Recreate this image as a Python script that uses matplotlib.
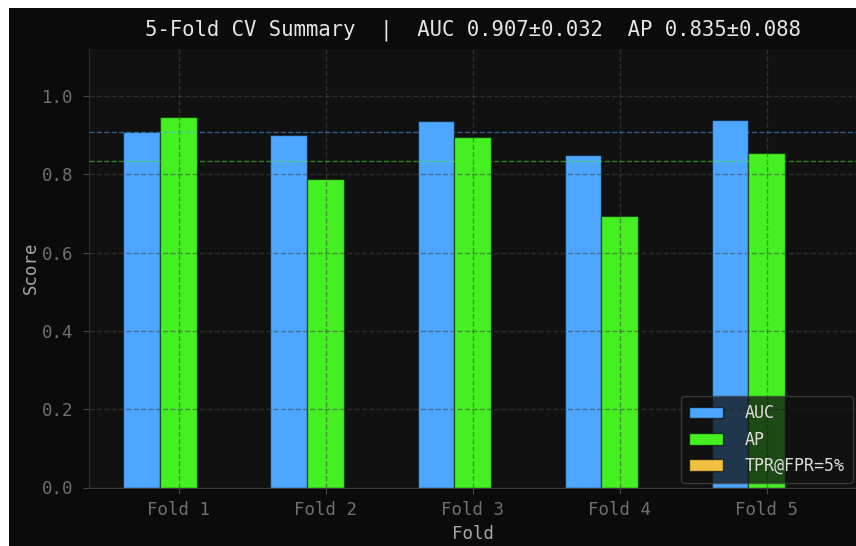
import numpy as np
import matplotlib
matplotlib.use("Agg")
import matplotlib.pyplot as plt
from matplotlib.patches import Rectangle

# Per-fold cross-validation scores
folds = ["Fold 1", "Fold 2", "Fold 3", "Fold 4", "Fold 5"]
auc = [0.909, 0.900, 0.936, 0.849, 0.939]
ap = [0.946, 0.787, 0.896, 0.693, 0.855]
tpr_at_5fpr = [0.0, 0.0, 0.0, 0.0, 0.0]

auc_mean, auc_std = 0.907, 0.032
ap_mean, ap_std = 0.835, 0.088

C_AUC = "#4da6ff"
C_AP = "#44f022"
C_TPR = "#f0c040"
BG_FIG = "#0b0b0b"
BG_AX = "#111111"

plt.rcParams["font.family"] = ["DejaVu Sans Mono", "DejaVu Sans"]

fig = plt.figure(figsize=(8.56, 5.46), dpi=100, facecolor="white")
# dark canvas
fig.patches.append(Rectangle((9 / 856, -0.05), 1.1, (546 - 8) / 546 + 0.05,
                             transform=fig.transFigure, facecolor=BG_FIG,
                             edgecolor="none", zorder=-10))

ax = fig.add_axes([88.5 / 856, (546 - 487.5) / 546,
                   (856.8 - 88.5) / 856, (487.5 - 49) / 546])
ax.set_facecolor(BG_AX)

x = np.arange(len(folds))
w = 0.25
edge = (0, 0, 0, 0.45)
ax.bar(x - w, auc, w, color=C_AUC, edgecolor=edge, linewidth=1, label="AUC", zorder=2)
ax.bar(x, ap, w, color=C_AP, edgecolor=edge, linewidth=1, label="AP", zorder=2)
ax.bar(x + w, tpr_at_5fpr, w, color=C_TPR, edgecolor=edge, linewidth=0.0,
       label="TPR@FPR=5%", zorder=2)

ax.axhline(auc_mean, color=C_AUC, linestyle="--", linewidth=1, alpha=0.5, zorder=3)
ax.axhline(ap_mean, color=C_AP, linestyle="--", linewidth=1, alpha=0.5, zorder=3)

ax.set_ylim(0, 1.12)
ax.set_yticks([0.0, 0.2, 0.4, 0.6, 0.8, 1.0])
ax.set_xticks(x)
ax.set_xticklabels(folds)

ax.grid(True, color="#444444", linestyle="--", linewidth=1, alpha=0.55, zorder=3)
ax.set_axisbelow(False)

for side in ("top", "right"):
    ax.spines[side].set_visible(False)
ax.spines["left"].set_color("#2e2e2e")
ax.spines["bottom"].set_color("#3a3a3a")

ax.tick_params(colors="#444444", labelcolor="#6f6f6f", labelsize=12.5, length=4)
ax.tick_params(axis="y", pad=7)
ax.tick_params(axis="x", pad=6)

ax.set_xlabel("Fold", color="#a8a8a8", fontsize=12.5, labelpad=4)
ax.set_ylabel("Score", color="#a8a8a8", fontsize=12.5, labelpad=1)

ax.set_title(f"5-Fold CV Summary  |  AUC {auc_mean:.3f}\u00b1{auc_std:.3f}  "
             f"AP {ap_mean:.3f}\u00b1{ap_std:.3f}",
             color="#e6e6e6", fontsize=14.85, pad=10)

leg = ax.legend(loc="lower right", fontsize=12, facecolor=BG_AX, framealpha=0.75,
                edgecolor="#444444", labelcolor="#dddddd", borderaxespad=0.25,
                borderpad=0.5, handletextpad=1.3)
leg.get_frame().set_linewidth(1)
for h in leg.legend_handles:
    h.set_edgecolor((0, 0, 0, 0.6))
    h.set_linewidth(1)

fig.savefig("out.png", dpi=100, facecolor=fig.get_facecolor())
